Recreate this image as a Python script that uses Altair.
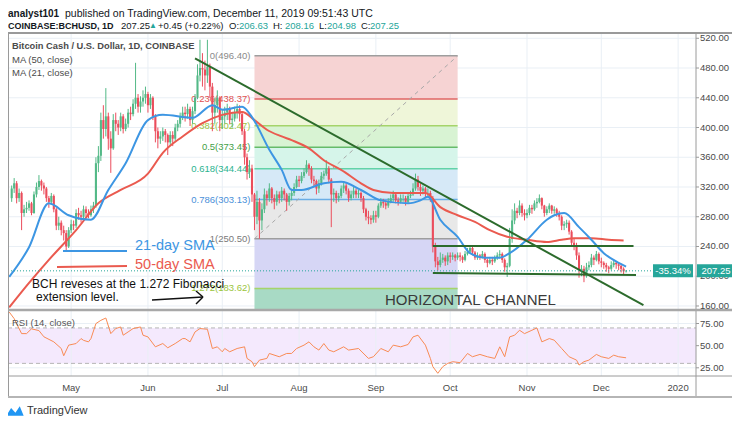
import altair as alt
import pandas as pd

FONT = "Liberation Sans"
BASE = pd.Timestamp("2019-05-01")


def dnum(s):
    return (pd.Timestamp(s) - BASE).days


# ---------------- daily candles (from 2019-04-07) ----------------
first_date = "2019-04-07"
first_open = 305

close_apr = [318, 325, 305, 312, 285, 290, 292, 298, 285, 310, 320, 328, 322, 318, 305, 300, 308, 290, 268, 272, 262, 258, 240, 262]
high_apr = [322, 332, 328, 318, 314, 296, 300, 302, 300, 314, 326, 336, 330, 326, 320, 308, 312, 310, 292, 280, 275, 268, 262, 266]
low_apr = [300, 312, 298, 300, 262, 280, 285, 288, 282, 284, 306, 316, 315, 310, 300, 292, 296, 286, 262, 262, 255, 248, 233, 238]

close_may = [270, 268, 285, 282, 280, 290, 285, 282, 290, 295, 352, 362, 410, 398, 415, 385, 372, 410, 405, 400, 415, 398, 405, 420, 418, 432, 440, 428, 435, 440, 445]
high_may = [276, 275, 290, 292, 288, 295, 294, 290, 295, 300, 360, 375, 420, 430, 453, 420, 395, 418, 420, 410, 420, 418, 412, 425, 428, 438, 487, 445, 442, 450, 455]
low_may = [258, 262, 265, 276, 272, 278, 280, 278, 280, 285, 292, 340, 355, 385, 388, 370, 339, 370, 395, 390, 395, 392, 395, 400, 410, 415, 425, 420, 420, 428, 432]

close_jun = [430, 440, 415, 395, 385, 388, 395, 390, 380, 390, 385, 400, 405, 415, 420, 418, 425, 410, 422, 440, 470, 480, 478, 470, 482, 455, 420, 430, 440, 410]
high_jun = [448, 445, 442, 418, 400, 395, 400, 398, 392, 395, 395, 405, 410, 420, 428, 428, 432, 428, 428, 445, 485, 518, 500, 490, 518, 486, 460, 440, 450, 442]
low_jun = [420, 425, 410, 380, 372, 378, 382, 380, 363, 375, 375, 382, 395, 400, 410, 408, 412, 402, 405, 418, 438, 462, 455, 450, 460, 440, 395, 405, 420, 395]

close_jul = [415, 420, 425, 410, 412, 420, 425, 418, 395, 360, 340, 345, 310, 280, 300, 275, 290, 310, 305, 318, 305, 300, 310, 305, 315, 310, 300, 308, 312, 320, 330]
high_jul = [425, 428, 432, 428, 420, 428, 432, 430, 420, 398, 365, 356, 350, 312, 315, 305, 298, 318, 315, 325, 320, 310, 315, 314, 320, 318, 312, 312, 318, 325, 335]
low_jul = [398, 405, 410, 405, 400, 408, 412, 408, 390, 350, 330, 332, 300, 262, 270, 250.5, 262, 285, 295, 300, 298, 290, 295, 298, 300, 302, 288, 295, 302, 308, 318]

close_aug = [328, 335, 340, 350, 345, 330, 328, 318, 325, 335, 338, 345, 330, 310, 312, 305, 308, 318, 322, 315, 305, 310, 315, 310, 312, 305, 290, 280, 278, 276, 282]
high_aug = [335, 340, 345, 356, 352, 348, 335, 330, 330, 340, 342, 356, 348, 332, 318, 315, 312, 322, 328, 325, 318, 315, 320, 318, 316, 314, 308, 292, 288, 282, 288]
low_aug = [320, 325, 332, 338, 335, 325, 320, 310, 312, 322, 330, 335, 325, 266, 300, 298, 300, 305, 312, 310, 300, 302, 305, 305, 305, 300, 285, 275, 270, 270, 272]

close_sep = [280, 295, 300, 298, 295, 300, 305, 310, 302, 300, 305, 305, 300, 308, 310, 318, 330, 320, 315, 318, 312, 312, 305, 240, 220, 215, 222, 225, 220, 228]
high_sep = [288, 298, 305, 304, 302, 305, 310, 315, 312, 306, 310, 310, 308, 312, 315, 325, 338, 335, 325, 322, 320, 318, 315, 308, 245, 226, 232, 230, 228, 232]
low_sep = [272, 278, 292, 292, 290, 292, 298, 300, 298, 295, 298, 300, 295, 298, 305, 308, 315, 315, 308, 310, 305, 306, 300, 232, 212, 208, 212, 218, 214, 215]

close_oct = [226, 228, 225, 228, 226, 222, 230, 233, 238, 232, 225, 228, 226, 230, 222, 218, 222, 220, 225, 228, 230, 222, 212, 214, 250, 275, 288, 285, 295, 285, 282]
high_oct = [232, 232, 230, 232, 232, 228, 234, 238, 242, 240, 234, 232, 230, 234, 232, 224, 226, 226, 228, 232, 235, 232, 224, 218, 265, 290, 298, 292, 302, 298, 290]
low_oct = [218, 222, 220, 222, 220, 218, 220, 228, 230, 228, 222, 222, 222, 224, 218, 212, 216, 215, 218, 222, 224, 218, 206, 199, 212, 245, 270, 278, 282, 280, 275]

close_nov = [285, 292, 290, 298, 300, 305, 295, 285, 290, 295, 288, 290, 285, 280, 268, 270, 272, 260, 245, 242, 228, 208, 210, 200, 212, 215, 225, 222, 230, 220]
high_nov = [290, 296, 296, 302, 305, 310, 306, 296, 294, 298, 296, 294, 292, 288, 282, 274, 276, 275, 262, 250, 245, 232, 215, 214, 218, 220, 230, 228, 234, 232]
low_nov = [278, 282, 284, 288, 292, 298, 290, 280, 282, 285, 284, 284, 280, 275, 262, 262, 265, 256, 240, 235, 222, 198, 200, 192, 198, 208, 212, 215, 220, 216]

close_dec = [218, 215, 212, 210, 215, 218, 216, 214, 210, 206.63, 207.25]
high_dec = [225, 220, 218, 214, 220, 222, 220, 218, 216, 212, 208.16]
low_dec = [212, 210, 206, 204, 208, 212, 210, 208, 205, 203, 204.98]

closes = close_apr + close_may + close_jun + close_jul + close_aug + close_sep + close_oct + close_nov + close_dec
highs = high_apr + high_may + high_jun + high_jul + high_aug + high_sep + high_oct + high_nov + high_dec
lows = low_apr + low_may + low_jun + low_jul + low_aug + low_sep + low_oct + low_nov + low_dec
dates = pd.date_range(first_date, periods=len(closes), freq="D")
opens = [first_open] + closes[:-1]
candles = pd.DataFrame({"d": (dates - BASE).days, "o": opens, "h": highs, "l": lows, "c": closes})

# ---------------- moving averages ----------------
ma21_dates = ["2019-04-06", "2019-04-14", "2019-04-22", "2019-04-30", "2019-05-09", "2019-05-16", "2019-05-23",
              "2019-06-01", "2019-06-07", "2019-06-19", "2019-06-27", "2019-07-01", "2019-07-09", "2019-07-13",
              "2019-07-20", "2019-07-25", "2019-07-29", "2019-08-02", "2019-08-11", "2019-08-18", "2019-08-26",
              "2019-09-03", "2019-09-14", "2019-09-19", "2019-09-22", "2019-09-27", "2019-10-04", "2019-10-09",
              "2019-10-15", "2019-10-21", "2019-10-25", "2019-11-01", "2019-11-09", "2019-11-12", "2019-11-16",
              "2019-11-22", "2019-11-27", "2019-12-02", "2019-12-08", "2019-12-11"]
ma21_vals = [199, 239, 298, 282, 276, 316, 352, 410, 417, 413, 430, 424, 428, 414, 370, 343, 316, 316, 325, 327,
             316, 302, 298, 302, 307, 276, 253, 231, 225, 225, 231, 249, 276, 282, 285, 266, 249, 231, 218, 213]
ma50_dates = ["2019-04-06", "2019-04-14", "2019-04-22", "2019-05-03", "2019-05-12", "2019-05-21", "2019-06-01",
              "2019-06-07", "2019-06-15", "2019-06-23", "2019-07-01", "2019-07-09", "2019-07-14", "2019-07-19",
              "2019-07-25", "2019-07-29", "2019-08-05", "2019-08-11", "2019-08-18", "2019-08-26", "2019-08-31",
              "2019-09-08", "2019-09-16", "2019-09-21", "2019-09-27", "2019-10-04", "2019-10-11", "2019-10-17",
              "2019-10-24", "2019-11-01", "2019-11-09", "2019-11-15", "2019-11-20", "2019-11-27", "2019-12-04",
              "2019-12-10"]
ma50_vals = [158, 191, 222, 262, 298, 316, 338, 366, 388, 406, 417, 421, 410, 397, 388, 383, 372, 356, 343, 325,
             316, 312, 312, 312, 293, 282, 273, 262, 253, 249, 246, 249, 251, 251, 249, 248]

# ---------------- RSI (14) samples: day offset from 2019-05-01 ----------------
rsi_day = [-25, -23, -20, -18, -16, -13, -11, -7, -4, -3, -1, 2, 4, 5, 7, 8, 10, 12, 14, 16, 18, 20, 21, 23, 25,
           28, 29, 31, 34, 37, 39, 42, 45, 46, 48, 50, 52, 55, 57, 59, 61, 62, 64, 67, 70, 71, 73, 74, 76, 79,
           80, 84, 87, 89, 91, 94, 96, 98, 100, 102, 104, 106, 110, 112, 116, 120, 122, 125, 128, 130, 133, 136,
           138, 140, 143, 145, 146, 148, 150, 152, 154, 157, 160, 162, 165, 168, 171, 173, 175, 177, 179, 181,
           183, 186, 188, 190, 193, 195, 198, 201, 204, 205, 207, 209, 212, 214, 217, 219, 221, 224]
rsi_val = [88, 80.5, 63.6, 63.6, 69, 67, 60, 54.3, 46.8, 38.6, 50.6, 52.4, 58, 56, 54.3, 58, 74.9, 78.6, 81.2,
           63.6, 69.3, 71.1, 61.8, 65.5, 69.3, 71.1, 61.8, 59.9, 48.7, 52.4, 47.6, 52.4, 58, 58, 54.3, 65.5, 69.3,
           68.5, 46.8, 48.7, 43.1, 46.8, 43.1, 46.8, 48.7, 35.6, 31.9, 26.3, 33.7, 35.6, 41.2, 37.5, 41.2, 41.2,
           46.8, 50.6, 54.3, 48.7, 45, 52.4, 45, 43.1, 48.7, 45, 46.8, 35.6, 37.5, 46.8, 43.1, 50.6, 48.7, 51.3,
           59.9, 61.8, 50.6, 35.6, 26.3, 18.8, 26.3, 30, 31.9, 30.8, 41.2, 37.5, 40.1, 37.5, 35.6, 48.7, 37.5,
           59.9, 61.8, 67.4, 63.6, 67.4, 70, 54.3, 58, 56.2, 46.8, 37.5, 33.7, 28.1, 31.9, 33.7, 40.1, 37.5, 35.6,
           39.3, 37.5, 36.3]

# ---------------- Fibonacci retracement ----------------
fib_start, fib_end = "2019-07-14", "2019-10-04"
fib_ratio = ["0", "0.236", "0.382", "0.5", "0.618", "0.786", "1", "1.272"]
fib_price = [496.40, 438.37, 402.47, 373.45, 344.44, 303.13, 250.50, 183.62]
fib_line_color = ["#9e9e9e", "#e06666", "#a5d46a", "#66bb6a", "#62d3a8", "#6aaee6", "#9e9e9e", "#a5d46a"]
fib_label_color = ["#8a8a8a", "#e05050", "#9bc53d", "#43a047", "#2bb38f", "#4a90d9", "#7a7a7a", "#9bc53d"]
fib_zone_color = ["#f6d3d3", "#eff6d9", "#d8f3d3", "#d6f5ea", "#d6e9f7", "#e8e8e8", "#d6d6f5", "#a8dac5"]
pane_bottom_price = 156.0

# ---------------- trend lines / channel ----------------
trend_start = ["2019-06-20", "2019-09-24", "2019-09-24"]
trend_end = ["2019-12-18", "2019-12-14", "2019-12-15"]
trend_p1 = [493, 240.5, 204.5]
trend_p2 = [161, 240.5, 201.5]

price_ticks = [160, 200, 240, 280, 320, 360, 400, 440, 480, 520]
rsi_ticks = [75, 50, 25]
month_starts = ["2019-05-01", "2019-06-01", "2019-07-01", "2019-08-01", "2019-09-01", "2019-10-01",
                "2019-11-01", "2019-12-01", "2020-01-01"]
month_labels = ["May", "Jun", "Jul", "Aug", "Sep", "Oct", "Nov", "Dec", "2020"]
last_price = 207.25
change_pct = "-35.34%"

# ---------------- styling ----------------
W, H = 688, 345
UP, DOWN = "#53b987", "#eb4d5c"
BLUE, RED = "#3d96e3", "#ea5a4f"
DGREEN = "#2c6b2c"
TEAL = "#26a69a"
GRID = "#e9eff5"
FRAME = "#9a9a9a"
XS = alt.Scale(domain=[-23.47, 250.2], nice=False, zero=False)
PS = alt.Scale(domain=[63.14, 527.1], nice=False, zero=False)
RS = alt.Scale(domain=[13.5, 402.9], nice=False, zero=False)


def dx(f):
    return alt.X(f, type="quantitative", scale=XS, axis=None)


def pr(f):
    return alt.Y(f, type="quantitative", scale=PS, axis=None)


def rs(f):
    return alt.Y(f, type="quantitative", scale=RS, axis=None)


def pxx(f):
    return alt.X(f, type="quantitative", scale=None, axis=None)


def pxy(f):
    return alt.Y(f, type="quantitative", scale=None, axis=None)


def pix_rules(rows, **kw):
    df = pd.DataFrame(rows, columns=["x1", "y1", "x2", "y2", "c", "w"])
    return alt.Chart(df).mark_rule(**kw).encode(
        x=pxx("x1"), x2=alt.X2("x2"), y=pxy("y1"), y2=alt.Y2("y2"),
        color=alt.Color("c:N", scale=None), strokeWidth=alt.StrokeWidth("w:Q", scale=None))


def pix_texts(rows, bold=False, align="left"):
    df = pd.DataFrame(rows, columns=["t", "x", "y", "c", "s"])
    return alt.Chart(df).mark_text(align=align, baseline="middle", font=FONT,
                                   fontWeight="bold" if bold else "normal").encode(
        x=pxx("x"), y=pxy("y"), text="t:N",
        color=alt.Color("c:N", scale=None), size=alt.Size("s:Q", scale=None))


layers = []

# RSI background band and grid
layers.append(alt.Chart(pd.DataFrame({"a": [70], "b": [30]})).mark_rect(color="#f4e9fd").encode(
    x=alt.value(0), x2=alt.value(W), y=rs("a"), y2=alt.Y2("b")))
layers.append(alt.Chart(pd.DataFrame({"r": [75, 25]})).mark_rule(color=GRID).encode(
    x=alt.value(0), x2=alt.value(W), y=rs("r")))

# grid
months = pd.DataFrame({"d": [dnum(m) for m in month_starts], "lab": month_labels})
layers.append(alt.Chart(months).mark_rule(color=GRID).encode(x=dx("d"), y=alt.value(0), y2=alt.value(343)))
layers.append(alt.Chart(pd.DataFrame({"p": price_ticks})).mark_rule(color=GRID).encode(
    x=alt.value(0), x2=alt.value(W), y=pr("p")))

# Fibonacci zones, lines, labels
fib = pd.DataFrame({
    "x1": dnum(fib_start), "x2": dnum(fib_end),
    "top": fib_price, "bot": fib_price[1:] + [pane_bottom_price],
    "zc": fib_zone_color, "lc": fib_line_color, "tc": fib_label_color,
    "lab": [f"{r}({p:.2f})" for r, p in zip(fib_ratio, fib_price)],
})
layers.append(alt.Chart(fib).mark_rect().encode(
    x=dx("x1"), x2=alt.X2("x2"), y=pr("top"), y2=alt.Y2("bot"), color=alt.Color("zc:N", scale=None)))
layers.append(alt.Chart(fib).mark_rule(strokeWidth=1.5).encode(
    x=dx("x1"), x2=alt.X2("x2"), y=pr("top"), color=alt.Color("lc:N", scale=None)))
layers.append(alt.Chart(fib).mark_text(align="right", baseline="middle", dx=-4, font=FONT, fontSize=9.5).encode(
    x=dx("x1"), y=pr("top"), text="lab:N", color=alt.Color("tc:N", scale=None)))
layers.append(alt.Chart(pd.DataFrame({"x1": [dnum(fib_start)], "x2": [dnum(fib_end)],
                                      "p1": [fib_price[6]], "p2": [fib_price[0]]}))
              .mark_rule(color="#a8a8a8", strokeDash=[4, 4], strokeWidth=1).encode(
    x=dx("x1"), x2=alt.X2("x2"), y=pr("p1"), y2=alt.Y2("p2")))

# candles
ccol = alt.condition("datum.c >= datum.o", alt.value(UP), alt.value(DOWN))
layers.append(alt.Chart(candles).mark_rule(strokeWidth=1).encode(x=dx("d"), y=pr("l"), y2=alt.Y2("h"), color=ccol))
layers.append(alt.Chart(candles).mark_bar(size=2.1).encode(x=dx("d"), y=pr("o"), y2=alt.Y2("c"), color=ccol))

# moving averages
ma21 = pd.DataFrame({"d": [dnum(s) for s in ma21_dates], "v": ma21_vals})
ma50 = pd.DataFrame({"d": [dnum(s) for s in ma50_dates], "v": ma50_vals})
layers.append(alt.Chart(ma50).mark_line(color=RED, strokeWidth=2, interpolate="monotone").encode(x=dx("d"), y=pr("v")))
layers.append(alt.Chart(ma21).mark_line(color=BLUE, strokeWidth=2, interpolate="monotone").encode(x=dx("d"), y=pr("v")))

# trend lines and channel
trend = pd.DataFrame({"d1": [dnum(s) for s in trend_start], "d2": [dnum(s) for s in trend_end],
                      "p1": trend_p1, "p2": trend_p2})
layers.append(alt.Chart(trend).mark_rule(color=DGREEN, strokeWidth=2).encode(
    x=dx("d1"), x2=alt.X2("d2"), y=pr("p1"), y2=alt.Y2("p2")))

# current price dotted line
lp = pd.DataFrame({"p": [last_price], "lab": [f"{last_price:.2f}"], "pct": [change_pct]})
layers.append(alt.Chart(lp).mark_rule(color=TEAL, strokeDash=[1, 2], strokeWidth=1).encode(
    x=alt.value(0), x2=alt.value(645), y=pr("p")))

# annotation lines and arrow
layers.append(pix_rules([
    [55, 218, 119, 218, BLUE, 2],
    [49, 234, 119, 233, RED, 2],
    [144, 267, 195, 264, "#111111", 1.5],
    [195, 264, 188, 258, "#111111", 1.5],
    [195, 264, 188, 271, "#111111", 1.5],
]))
layers.append(pix_texts([
    ["21-day SMA", 127, 213, BLUE, 14.5],
    ["50-day SMA", 127, 232, RED, 14.5],
    ["BCH reveses at the 1.272 Fibonacci", 24, 251, "#111111", 12],
    ["extension level.", 28, 264, "#111111", 12],
    ["HORIZONTAL CHANNEL", 377, 267, "#3a3a3a", 15],
]))

# RSI
layers.append(alt.Chart(pd.DataFrame({"r": [70, 30]})).mark_rule(color="#b5b5b5", strokeDash=[4, 3]).encode(
    x=alt.value(0), x2=alt.value(W), y=rs("r")))
rsi = pd.DataFrame({"d": rsi_day, "r": rsi_val})
layers.append(alt.Chart(rsi).mark_line(color="#f98b55", strokeWidth=1).encode(x=dx("d"), y=rs("r")))

# frame
layers.append(pix_rules([
    [0, 0, 724, 0, FRAME, 2],
    [0.5, 0, 0.5, 364, FRAME, 1],
    [W, 0, W, 364, FRAME, 1],
    [0, 277, 724, 277, "#a8a8a8", 2.5],
    [0, 343, 724, 343, FRAME, 1],
    [0, 364, 724, 364, "#b5b5b5", 2],
]))

# price axis
pt = pd.DataFrame({"p": price_ticks, "lab": [f"{v:.2f}" for v in price_ticks]})
layers.append(alt.Chart(pt).mark_rule(color=FRAME).encode(x=alt.value(W), x2=alt.value(W + 3), y=pr("p")))
layers.append(alt.Chart(pt).mark_text(align="left", baseline="middle", font=FONT, fontSize=9.5, color="#4a4a4a").encode(
    x=alt.value(W + 4), y=pr("p"), text="lab:N"))
rt = pd.DataFrame({"r": rsi_ticks, "lab": [f"{v:.2f}" for v in rsi_ticks]})
layers.append(alt.Chart(rt).mark_rule(color=FRAME).encode(x=alt.value(W), x2=alt.value(W + 3), y=rs("r")))
layers.append(alt.Chart(rt).mark_text(align="left", baseline="middle", font=FONT, fontSize=9.5, color="#4a4a4a").encode(
    x=alt.value(W + 4), y=rs("r"), text="lab:N"))
layers.append(alt.Chart(months).mark_text(align="center", baseline="middle", font=FONT, fontSize=9.5, color="#4a4a4a").encode(
    x=dx("d"), y=alt.value(355), text="lab:N"))

# price tags
layers.append(alt.Chart(lp).mark_rule(color=TEAL, strokeWidth=13, strokeCap="butt").encode(
    x=alt.value(W + 1), x2=alt.value(W + 39), y=pr("p")))
layers.append(alt.Chart(lp).mark_rule(color=TEAL, strokeWidth=13, strokeCap="butt").encode(
    x=alt.value(645), x2=alt.value(685), y=pr("p")))
layers.append(alt.Chart(lp).mark_text(align="center", baseline="middle", font=FONT, fontSize=9.5, color="white").encode(
    x=alt.value(W + 20), y=pr("p"), text="lab:N"))
layers.append(alt.Chart(lp).mark_text(align="center", baseline="middle", font=FONT, fontSize=9.5, color="white").encode(
    x=alt.value(665), y=pr("p"), text="pct:N"))

# header, legend, logo
L1, L2 = -19.5, -7
INK = "#131722"
layers.append(pix_texts([
    ["analyst101", 0, L1, INK, 10],
    ["COINBASE:BCHUSD, 1D", 0, L2, INK, 9],
    ["Bitcoin Cash / U.S. Dollar, 1D, COINBASE", 4, 13, "#4a4a4a", 9.3],
], bold=True))
layers.append(pix_texts([
    ["published on TradingView.com, December 11, 2019 09:51:43 UTC", 57, L1, INK, 10.5],
    ["207.25", 113, L2, INK, 9.5],
    ["\u25B2", 141, L2, TEAL, 8],
    ["+0.45 (+0.22%)", 150, L2, INK, 9.5],
    ["O:", 221, L2, INK, 9.5],
    ["206.63", 231, L2, TEAL, 9.5],
    ["H:", 265, L2, INK, 9.5],
    ["208.16", 277, L2, TEAL, 9.5],
    ["L:", 311, L2, INK, 9.5],
    ["204.98", 319, L2, TEAL, 9.5],
    ["C:", 353, L2, INK, 9.5],
    ["207.25", 362, L2, TEAL, 9.5],
    ["MA (50, close)", 4, 27, "#4a4a4a", 9.5],
    ["MA (21, close)", 4, 40, "#4a4a4a", 9.5],
    ["RSI (14, close)", 4, 290, "#555555", 9.5],
    ["TradingView", 19, 378, "#333333", 11],
]))
layers.append(alt.Chart(pd.DataFrame({"x": [7], "y": [378]})).mark_point(
    shape="M -1 0.55 L -0.45 -0.35 L 0.05 0.2 L 0.55 -0.55 L 1 0.55 Z", filled=True, size=300,
    color="#2196f3", opacity=1).encode(x=pxx("x"), y=pxy("y")))

chart = alt.layer(*layers).resolve_scale(y="independent").properties(
    width=W, height=H,
    autosize=alt.AutoSizeParams(type="none"),
    padding={"left": 0, "top": 25, "right": 36, "bottom": 40},
    background="white",
).configure_view(stroke=None)

chart.save("out.html", embed_options={"renderer": "svg", "actions": False})
